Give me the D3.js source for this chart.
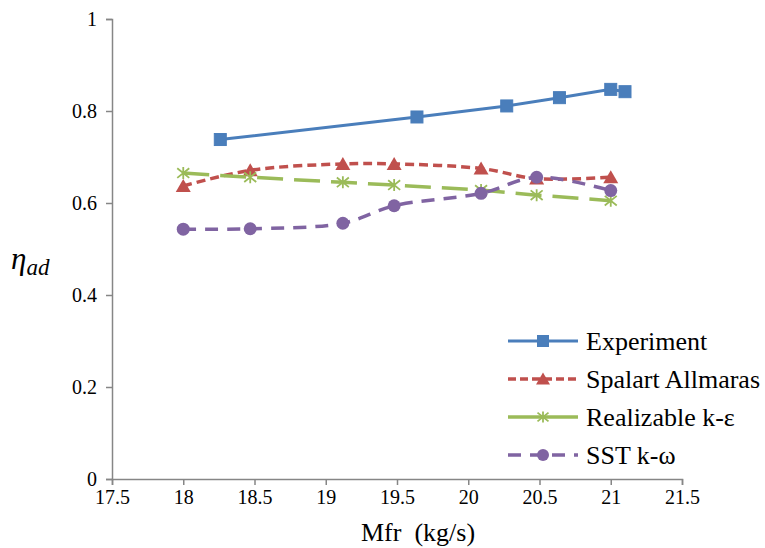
<!DOCTYPE html>
<html>
<head>
<meta charset="utf-8">
<script src="https://cdn.jsdelivr.net/npm/d3@7"></script>
<style>
  body { margin: 0; background: #fff; }
  svg { display: block; }
  svg text { font-family: "Liberation Serif", "Times New Roman", Times, "DejaVu Serif", serif; fill: #000; }
  .axis text { font-size: 20px; }
  .axis path, .axis line { stroke: #868686; stroke-width: 1.5; }
  .legend text { font-size: 26px; }
</style>
</head>
<body>
<svg id="chart"></svg>
<script>
// Data
const experimentX = [18.26, 19.64, 20.27, 20.64, 21.0, 21.1];
const experimentY = [0.738, 0.787, 0.811, 0.829, 0.847, 0.842];
const modelX = [18.0, 18.47, 19.12, 19.48, 20.09, 20.48, 21.0];
const spalartY = [0.637, 0.671, 0.685, 0.685, 0.675, 0.653, 0.656];
const realizableY = [0.665, 0.656, 0.645, 0.639, 0.628, 0.617, 0.605];
const sstY = [0.543, 0.544, 0.556, 0.594, 0.621, 0.656, 0.627];
const seriesNames = ['Experiment', 'Spalart Allmaras', 'Realizable k-\u03b5', 'SST k-\u03c9'];
const xTicks = [17.5, 18, 18.5, 19, 19.5, 20, 20.5, 21, 21.5];
const yTicks = [0, 0.2, 0.4, 0.6, 0.8, 1];

class LineChart {
  constructor(_config, _series) {
    this.config = {
      parentElement: _config.parentElement,
      containerWidth: _config.containerWidth || 765,
      containerHeight: _config.containerHeight || 548,
      margin: _config.margin || { top: 19, right: 83, bottom: 69, left: 112 }
    }
    this.series = _series;
    this.initVis();
  }

  initVis() {
    let vis = this;
    vis.width = vis.config.containerWidth - vis.config.margin.left - vis.config.margin.right;
    vis.height = vis.config.containerHeight - vis.config.margin.top - vis.config.margin.bottom;

    vis.xScale = d3.scaleLinear().domain([17.5, 21.5]).range([0, vis.width]);
    vis.yScale = d3.scaleLinear().domain([0, 1]).range([vis.height, 0]);

    vis.xAxis = d3.axisBottom(vis.xScale)
      .tickValues(xTicks)
      .tickSize(6)
      .tickPadding(5)
      .tickFormat(d => d);

    vis.yAxis = d3.axisLeft(vis.yScale)
      .tickValues(yTicks)
      .tickSize(6)
      .tickPadding(9)
      .tickFormat(d => d);

    vis.svg = d3.select(vis.config.parentElement)
      .attr('width', vis.config.containerWidth)
      .attr('height', vis.config.containerHeight);

    vis.chart = vis.svg.append('g')
      .attr('transform', `translate(${vis.config.margin.left},${vis.config.margin.top})`);

    vis.xAxisG = vis.chart.append('g')
      .attr('class', 'axis x-axis')
      .attr('transform', `translate(0,${vis.height})`);
    vis.yAxisG = vis.chart.append('g')
      .attr('class', 'axis y-axis');

    // axis titles (x title sits a bit right of the plot centre, as in the original)
    vis.svg.append('text')
      .attr('x', 418)
      .attr('y', vis.config.margin.top + vis.height + 62)
      .attr('text-anchor', 'middle')
      .style('font-size', '26px')
      .style('white-space', 'pre')
      .text('Mfr  (kg/s)');

    let yTitle = vis.svg.append('text')
      .attr('x', 11)
      .attr('y', 269)
      .style('font-style', 'italic');
    yTitle.append('tspan').style('font-size', '31px').text('\u03b7');
    yTitle.append('tspan').style('font-size', '23px').attr('dy', 6).text('ad');

    vis.legend = vis.svg.append('g').attr('class', 'legend');
  }

  updateVis() {
    let vis = this;
    vis.xValue = d => d.x;
    vis.yValue = d => d.y;
    vis.renderVis();
  }

  marker(sel, s, size) {
    if (s.shape === 'square') {
      sel.append('rect')
        .attr('x', -size / 2).attr('y', -size / 2)
        .attr('width', size).attr('height', size)
        .attr('fill', s.color).attr('stroke', s.color);
    } else if (s.shape === 'triangle') {
      let h = size;
      sel.append('path')
        .attr('d', `M0,${-h / 2 - 1}L${size / 2 + 1.5},${h / 2}L${-size / 2 - 1.5},${h / 2}Z`)
        .attr('fill', s.color);
    } else if (s.shape === 'star') {
      let r = size / 2;
      sel.append('path')
        .attr('d', `M${-r},${-r * 0.8}L${r},${r * 0.8}M${-r},${r * 0.8}L${r},${-r * 0.8}M0,${-r}L0,${r}`)
        .attr('fill', 'none').attr('stroke', s.color).attr('stroke-width', 1.8);
    } else {
      sel.append('circle').attr('r', size / 2 + 0.5).attr('fill', s.color);
    }
  }

  renderVis() {
    let vis = this;

    vis.xAxisG.call(vis.xAxis).attr('font-family', null);
    vis.yAxisG.call(vis.yAxis).attr('font-family', null);
    vis.chart.selectAll('.domain').attr('stroke', '#868686');

    vis.series.forEach(s => {
      let line = d3.line()
        .x(d => vis.xScale(vis.xValue(d)))
        .y(d => vis.yScale(vis.yValue(d)))
        .curve(s.smooth ? d3.curveCatmullRom.alpha(0.5) : d3.curveLinear);

      vis.chart.append('path')
        .datum(s.values)
        .attr('d', line)
        .attr('fill', 'none')
        .attr('stroke', s.color)
        .attr('stroke-width', s.width)
        .attr('stroke-dasharray', s.dash);

      vis.chart.selectAll(null)
        .data(s.values)
        .join('g')
        .attr('transform', d => `translate(${vis.xScale(vis.xValue(d))},${vis.yScale(vis.yValue(d))})`)
        .each(function() { vis.marker(d3.select(this), s, 12); });
    });

    // Legend in bottom right
    let rows = vis.legend.selectAll('g')
      .data(vis.series)
      .join('g')
      .attr('transform', (d, i) => `translate(508,${341 + i * 38})`);
    rows.append('line')
      .attr('x1', 0).attr('x2', 70)
      .attr('stroke', d => d.color)
      .attr('stroke-width', d => d.width)
      .attr('stroke-dasharray', d => d.legendDash);
    rows.each(function(d) {
      let g = d3.select(this).append('g').attr('transform', 'translate(35,0)');
      vis.marker(g, d, 11);
    });
    rows.append('text')
      .attr('x', 78)
      .attr('dy', '0.33em')
      .text(d => d.name);
  }
}

const toPoints = (xs, ys) => xs.map((x, i) => ({ x: x, y: ys[i] }));

const series = [
  { name: seriesNames[0], values: toPoints(experimentX, experimentY), color: '#4a7ebb', width: 3, dash: null, legendDash: null, shape: 'square', smooth: false },
  { name: seriesNames[1], values: toPoints(modelX, spalartY), color: '#c0504d', width: 3.5, dash: '9,5', legendDash: '8,4', shape: 'triangle', smooth: true },
  { name: seriesNames[2], values: toPoints(modelX, realizableY), color: '#9bbb59', width: 3.5, dash: '26,11', legendDash: null, shape: 'star', smooth: false },
  { name: seriesNames[3], values: toPoints(modelX, sstY), color: '#8064a2', width: 3.5, dash: '13,9', legendDash: '13,9', shape: 'circle', smooth: true }
];

let chart = new LineChart({ parentElement: '#chart' }, series);
chart.updateVis();
</script>
</body>
</html>
